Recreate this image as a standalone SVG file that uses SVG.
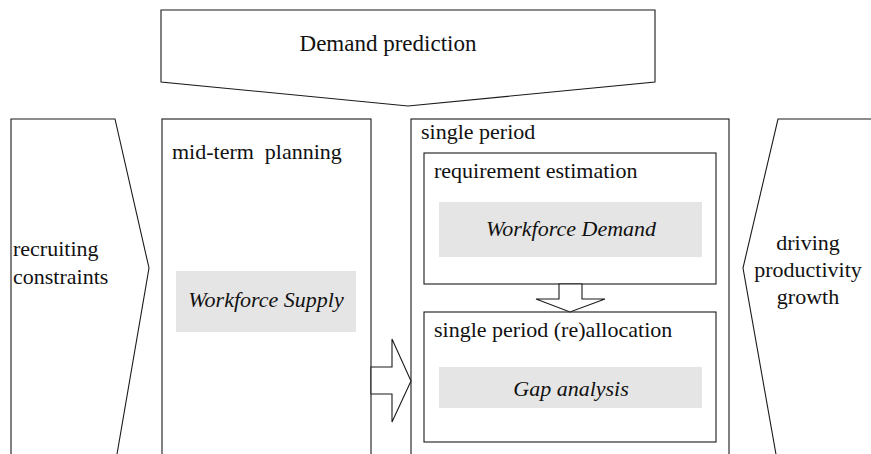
<svg xmlns="http://www.w3.org/2000/svg" width="871" height="454" viewBox="0 0 871 454">
<style>
.s{fill:#fff;stroke:#1a1a1a;stroke-width:1.1}
.g{fill:#e5e5e5;stroke:none}
text{font-family:"Liberation Serif","Times New Roman","DejaVu Serif",serif;font-size:22px;fill:#111}
.i{font-style:italic}
.c{text-anchor:middle}
</style>
<rect width="871" height="454" fill="#fff"/>
<g id="demand-prediction">
<polygon class="s" points="161,10 655,10 655,82 408,106 161,82"/>
<text x="388" y="51" class="c" style="font-size:23px">Demand prediction</text>
</g>
<g id="recruiting-constraints">
<path class="s" d="M11,460 V119 H115 L149,268 L116,460"/>
<text x="13" y="256">recruiting</text>
<text x="13" y="284">constraints</text>
</g>
<g id="driving-productivity">
<path class="s" d="M880,119 H778 L743,268 L777,460"/>
<text x="808" y="250" class="c">driving</text>
<text x="808" y="277" class="c">productivity</text>
<text x="808" y="304" class="c">growth</text>
</g>
<g id="mid-term-planning">
<rect class="s" x="162" y="119" width="209" height="345"/>
<text x="172" y="159" xml:space="preserve">mid-term  planning</text>
<rect class="g" x="176" y="271" width="180" height="61"/>
<text x="266" y="307" class="c i">Workforce Supply</text>
</g>
<g id="single-period">
<rect class="s" x="411" y="119" width="318" height="345"/>
<text x="421" y="139">single period</text>
</g>
<g id="requirement-estimation">
<rect class="s" x="424" y="153" width="292" height="131"/>
<text x="434" y="178">requirement estimation</text>
<rect class="g" x="439" y="202" width="263" height="55"/>
<text x="571" y="236" class="c i">Workforce Demand</text>
</g>
<g id="reallocation">
<rect class="s" x="424" y="312" width="292" height="130"/>
<text x="434" y="337">single period (re)allocation</text>
<rect class="g" x="439" y="367" width="263" height="41"/>
<text x="571" y="396" class="c i">Gap analysis</text>
</g>
<g id="connectors">
<polygon class="s" points="559,284 582,284 582,299 605,299 570,312 536,299 559,299"/>
<polygon class="s" points="371,367 392,367 392,339 411,381 392,422 392,394 371,394"/>
</g>
</svg>
